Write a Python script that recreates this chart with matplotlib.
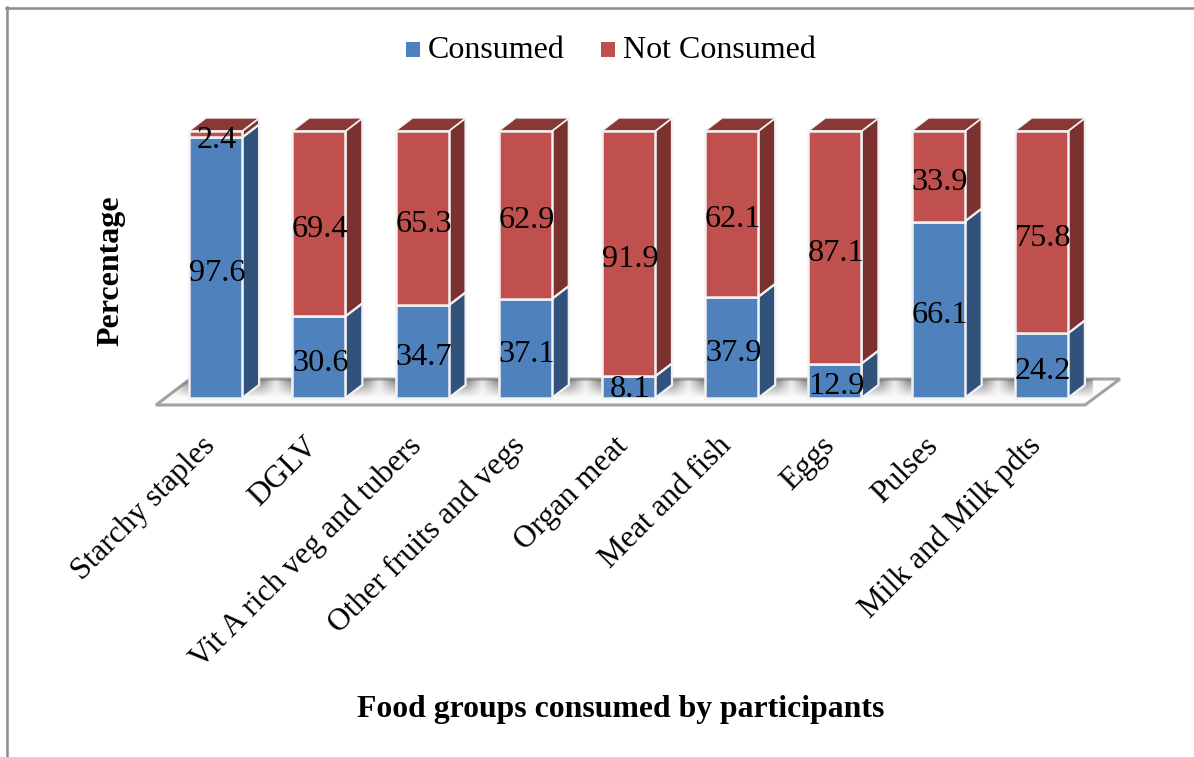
import numpy as np
import matplotlib
matplotlib.use("Agg")
import matplotlib.pyplot as plt
from matplotlib.patches import Polygon, Rectangle
from matplotlib.transforms import ScaledTranslation

plt.rcParams['font.family'] = ['Liberation Serif', 'DejaVu Serif']

food_groups = ['Starchy staples', 'DGLV', 'Vit A rich veg and tubers', 'Other fruits and vegs',
               'Organ meat', 'Meat and fish', 'Eggs', 'Pulses', 'Milk and Milk pdts']
consumed = [97.6, 30.6, 34.7, 37.1, 8.1, 37.9, 12.9, 66.1, 24.2]
not_consumed = [2.4, 69.4, 65.3, 62.9, 91.9, 62.1, 87.1, 33.9, 75.8]

W, H = 1194, 757
LEFT, RIGHT = 164.0, 1093.0
BOTTOM, TOP = 398.0, 131.0

fig = plt.figure(figsize=(W / 100, H / 100), dpi=100)
fig.patch.set_facecolor('white')
ax = fig.add_axes([LEFT / W, 1 - BOTTOM / H, (RIGHT - LEFT) / W, (BOTTOM - TOP) / H])
for s in ax.spines.values():
    s.set_visible(False)
ax.patch.set_visible(False)

# one pixel in data units, used for the fake 3D depth
px = 9.0 / (RIGHT - LEFT)
py = 100.0 / (BOTTOM - TOP)
bar_w = 53 * px
dx, dy = 17 * px, 13 * py
floor_top = 19 * py


def box(x0, y0, y1, front, side, top, z=3):
    x1 = x0 + bar_w
    ax.add_patch(Polygon([(x1, y0), (x1 + dx, y0 + dy), (x1 + dx, y1 + dy), (x1, y1)],
                         fc=side, ec='#f2f2f2', lw=1.6, zorder=z, clip_on=False))
    ax.add_patch(Polygon([(x0, y1), (x1, y1), (x1 + dx, y1 + dy), (x0 + dx, y1 + dy)],
                         fc=top, ec='#f2f2f2', lw=1.0, zorder=z, clip_on=False))
    ax.add_patch(Rectangle((x0, y0), bar_w, y1 - y0, fc=front, ec='#f2f2f2', lw=1.8,
                           zorder=z + 0.1, clip_on=False))


# floor plate
floor_pts = [(-0.5 + (156 - LEFT) * px, -7 * py), (-0.5 + (1085 - LEFT) * px, -7 * py),
             (-0.5 + (1120 - LEFT) * px, floor_top), (-0.5 + (190 - LEFT) * px, floor_top)]
floor = Polygon(floor_pts, fc='#fbfbfb', ec='#a3a3a3', lw=2.2, zorder=1, clip_on=False)
ax.add_patch(floor)

# soft shadow thrown on the floor behind each bar
xs = np.linspace(-0.5 + (150 - LEFT) * px, -0.5 + (1125 - LEFT) * px, 975)
ys = np.linspace(-7 * py, floor_top, 26)
gx, gy = np.meshgrid(xs, ys)
shade = np.zeros_like(gx)
for i in range(9):
    x0, x1 = i - bar_w / 2, i + bar_w / 2 + dx
    dist = np.maximum(np.maximum(x0 - gx, gx - x1), 0) / px
    shade = np.maximum(shade, np.exp(-(dist / 13.0) ** 2))
fade = np.clip((gy - 0.3 * py) / (floor_top - 0.3 * py), 0, 1)
rgba = np.zeros(gx.shape + (4,))
rgba[..., :3] = 0.45
rgba[..., 3] = shade * fade * 0.85
im = ax.imshow(rgba, extent=(xs[0], xs[-1], ys[0], ys[-1]), origin='lower', aspect='auto',
               interpolation='bilinear', zorder=2)
im.set_clip_path(floor)

for i in range(9):
    x0 = i - bar_w / 2
    box(x0, 0, consumed[i], '#4f81bd', '#31527a', '#31527a', z=3)
    box(x0, consumed[i], 100, '#c0504d', '#7c3131', '#8a3836', z=4)
    low = consumed[i] / 2 - 2.2 if consumed[i] > 9 else 3.3
    high = consumed[i] + not_consumed[i] / 2 - 2.2 if not_consumed[i] > 9 else 96.6
    ax.text(i + 1.5 * px, low, f'{consumed[i]:.1f}', ha='center', va='center',
            fontsize=23.2, color='black', zorder=6, clip_on=False)
    ax.text(i + 1.5 * px, high, f'{not_consumed[i]:.1f}', ha='center', va='center',
            fontsize=23.2, color='black', zorder=6, clip_on=False)

ax.set_xlim(-0.5, 8.5)
ax.set_ylim(0, 100)
ax.set_xticks(range(9))
ax.set_xticklabels(food_groups, rotation=45, ha='right', va='top', rotation_mode='anchor', fontsize=22.7)
ax.tick_params(axis='x', length=0, pad=24)
ax.set_yticks([])
shift = ScaledTranslation(-15 / 100, 0, fig.dpi_scale_trans)
for lab in ax.get_xticklabels():
    lab.set_transform(lab.get_transform() + shift)

fig.text(111 / W, 1 - 271 / H, 'Percentage', rotation=90, ha='center', va='center', fontsize=23, fontweight='bold')
fig.text(621 / W, 1 - 710 / H, 'Food groups consumed by participants', ha='center', va='center',
         fontsize=22.9, fontweight='bold')

# legend drawn by hand so the spacing stays tight
for x_sq, x_txt, color, label in [(405.5, 428, '#4f81bd', 'Consumed'), (600.5, 623, '#c0504d', 'Not Consumed')]:
    fig.add_artist(Rectangle((x_sq / W, 1 - 56.5 / H), 14.5 / W, 14.5 / H, fc=color, ec='none',
                             transform=fig.transFigure))
    fig.text(x_txt / W, 1 - 51 / H, label, ha='left', va='center', fontsize=23)

# chart frame
frame_color = '#8c8c8c'
fig.add_artist(plt.Line2D([7 / W, 7 / W], [0, 1 - 7 / H], color=frame_color, lw=1.8))
fig.add_artist(plt.Line2D([6 / W, 1], [1 - 7.5 / H, 1 - 7.5 / H], color=frame_color, lw=1.8))

fig.savefig('out.png', dpi=100)
